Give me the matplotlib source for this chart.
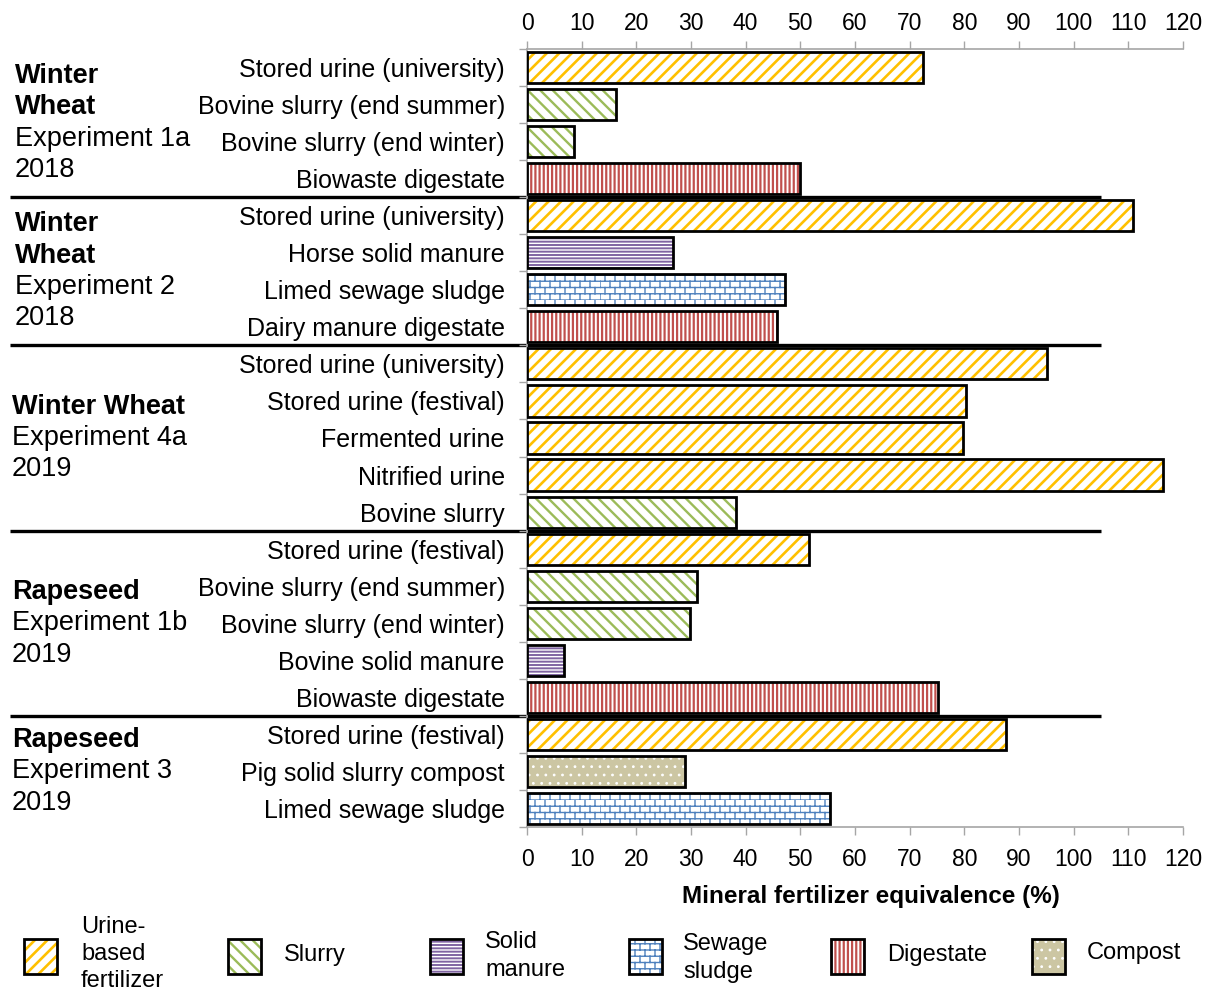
import matplotlib
matplotlib.use('Agg')
import matplotlib.pyplot as plt
import matplotlib.transforms as mtransforms
import numpy as np
import matplotlib.hatch as mhatch
from matplotlib.path import Path
from matplotlib.patches import Rectangle

plt.rcParams['font.family'] = ['Liberation Sans', 'DejaVu Sans']

# ---------------- data ----------------
categories = [
    "Stored urine (university)", "Bovine slurry (end summer)", "Bovine slurry (end winter)", "Biowaste digestate",
    "Stored urine (university)", "Horse solid manure", "Limed sewage sludge", "Dairy manure digestate",
    "Stored urine (university)", "Stored urine (festival)", "Fermented urine", "Nitrified urine", "Bovine slurry",
    "Stored urine (festival)", "Bovine slurry (end summer)", "Bovine slurry (end winter)", "Bovine solid manure",
    "Biowaste digestate",
    "Stored urine (festival)", "Pig solid slurry compost", "Limed sewage sludge",
]
values = [72.4, 16.3, 8.6, 49.9,
          110.8, 26.7, 47.2, 45.7,
          95.1, 80.3, 79.8, 116.3, 38.2,
          51.6, 31.1, 29.8, 6.8, 75.2,
          87.6, 28.9, 55.4]
fert_types = ["urine", "slurry", "slurry", "digestate",
              "urine", "solid", "sewage", "digestate",
              "urine", "urine", "urine", "urine", "slurry",
              "urine", "slurry", "slurry", "solid", "digestate",
              "urine", "compost", "sewage"]
group_titles = ["Winter\nWheat", "Winter\nWheat", "Winter Wheat", "Rapeseed", "Rapeseed"]
group_subtitles = ["Experiment 1a\n2018", "Experiment 2\n2018", "Experiment 4a\n2019",
                   "Experiment 1b\n2019", "Experiment 3\n2019"]
group_sizes = [4, 4, 5, 5, 3]
type_order = ["urine", "slurry", "solid", "sewage", "digestate", "compost"]
type_labels = ["Urine-\nbased\nfertilizer", "Slurry", "Solid\nmanure", "Sewage\nsludge", "Digestate", "Compost"]
x_ticks = list(range(0, 121, 10))

# ---------------- custom hatches ----------------
class BrickHatch(mhatch.HatchPatternBase):
    def __init__(self, hatch, density):
        n = hatch.count('b')
        self.rows = 16 * n
        self.cols = 10 * n
        self.num_vertices = (self.rows + self.rows * self.cols) * 2 if n else 0

    def set_vertices_and_codes(self, vertices, codes):
        verts = []
        for r in range(self.rows):
            y0 = r / self.rows
            y1 = (r + 1) / self.rows
            verts.append((0.0, y0)); verts.append((1.0, y0))
            off = 0.5 / self.cols if r % 2 else 0.0
            for c in range(self.cols):
                x = c / self.cols + off
                verts.append((x, y0)); verts.append((x, y1))
        vertices[:] = np.array(verts)
        codes[0::2] = Path.MOVETO
        codes[1::2] = Path.LINETO


class DiagNE(mhatch.HatchPatternBase):
    def __init__(self, hatch, density):
        self.num_lines = 16 * hatch.count('a')
        self.num_vertices = (self.num_lines + 1) * 2 if self.num_lines else 0

    def set_vertices_and_codes(self, vertices, codes):
        steps = np.linspace(-0.5, 0.5, self.num_lines + 1)
        vertices[0::2, 0] = 0.0 + steps
        vertices[0::2, 1] = 0.0 - steps
        vertices[1::2, 0] = 1.0 + steps
        vertices[1::2, 1] = 1.0 - steps
        codes[0::2] = Path.MOVETO
        codes[1::2] = Path.LINETO


class DiagSE(mhatch.HatchPatternBase):
    def __init__(self, hatch, density):
        self.num_lines = 16 * hatch.count('c')
        self.num_vertices = (self.num_lines + 1) * 2 if self.num_lines else 0

    def set_vertices_and_codes(self, vertices, codes):
        steps = np.linspace(-0.5, 0.5, self.num_lines + 1)
        vertices[0::2, 0] = 0.0 + steps
        vertices[0::2, 1] = 1.0 + steps
        vertices[1::2, 0] = 1.0 + steps
        vertices[1::2, 1] = 0.0 + steps
        codes[0::2] = Path.MOVETO
        codes[1::2] = Path.LINETO


mhatch._hatch_types.extend([BrickHatch, DiagNE, DiagSE])
mhatch._validate_hatch_pattern = lambda h: None

styles = {
    "urine":     dict(face="white",   hcol="#FFC000", hatch="a",     hlw=1.9),
    "slurry":    dict(face="white",   hcol="#9BBB59", hatch="c",     hlw=1.7),
    "solid":     dict(face="white",   hcol="#8064A2", hatch="-----", hlw=1.4),
    "sewage":    dict(face="white",   hcol="#4F81BD", hatch="b",     hlw=1.0),
    "digestate": dict(face="white",   hcol="#C0504D", hatch="||||",  hlw=1.6),
    "compost":   dict(face="#CCC6A3", hcol="white",   hatch="..",    hlw=0.8),
}

W, H = 1213, 992
fig = plt.figure(figsize=(W / 100, H / 100), dpi=100)
ax = fig.add_axes([527 / W, 1 - 827 / H, 656 / W, 778 / H])

y = np.arange(len(categories))
vals = np.array(values)

for t in type_order:
    idx = [i for i, ft in enumerate(fert_types) if ft == t]
    st = styles[t]
    plt.rcParams['hatch.linewidth'] = st["hlw"]
    bars = ax.barh(y[idx], vals[idx], height=0.84, color=st["face"], edgecolor=st["hcol"],
                   hatch=st["hatch"], linewidth=0, zorder=3)
    for b in bars:
        if hasattr(b, 'set_hatch_linewidth'):
            b.set_hatch_linewidth(st["hlw"])
    ax.barh(y[idx], vals[idx], height=0.84, fill=False, edgecolor="black", linewidth=2.0, zorder=4)

ax.set_xlim(0, 120)
ax.set_ylim(len(categories) - 0.5, -0.5)
ax.set_xticks(x_ticks)
ax.set_xticklabels([str(v) for v in x_ticks])
ax.tick_params(axis='x', top=True, labeltop=True, bottom=True, labelbottom=True, direction='out',
               length=6, width=1, color='#A6A6A6', labelsize=16.5, pad=9)
ax.set_yticks(y)
ax.set_yticklabels(categories, fontsize=18)
ax.set_yticks(np.arange(-0.5, len(categories)), minor=True)
ax.tick_params(axis='y', which='major', length=0, pad=16)
ax.tick_params(axis='y', which='minor', length=6, width=1, color='#A6A6A6', direction='out')
for s in ['top', 'bottom', 'left']:
    ax.spines[s].set_color('#A6A6A6')
    ax.spines[s].set_linewidth(1.2)
ax.spines['right'].set_visible(False)

ax.text((871 - 527) / 656, -(897 - 827) / 778, "Mineral fertilizer equivalence (%)", transform=ax.transAxes,
        ha='center', va='center', fontsize=17.5, fontweight='bold')

# separators and group labels
bounds = np.cumsum(group_sizes)
ax.hlines(bounds[:-1] - 0.5, -517 / 656, 105 / 120, transform=ax.get_yaxis_transform(),
          colors='black', linewidth=2.4, clip_on=False, zorder=1)
group_x = [15, 15, 12, 12, 12]
start = 0
line_px = 31.3
for gi, n in enumerate(group_sizes):
    center = start + (n - 1) / 2
    lines = [(l, 'bold') for l in group_titles[gi].split("\n")] + \
            [(l, 'normal') for l in group_subtitles[gi].split("\n")]
    m = len(lines)
    for li, (txt, fw) in enumerate(lines):
        off = ((m - 1) / 2 - li) * line_px * 0.72
        ax.annotate(txt, xy=(group_x[gi] / W, center), xycoords=('figure fraction', 'data'),
                    xytext=(0, off), textcoords='offset points', ha='left', va='center',
                    fontsize=19.5, fontweight=fw, annotation_clip=False)
    start += n

# legend
patch_x = [24, 228, 430, 629, 831, 1032]
text_x = [81, 284, 485, 683, 887, 1087]
text_y = [954, 955, 956, 958, 955, 953]
for i, t in enumerate(type_order):
    st = styles[t]
    plt.rcParams['hatch.linewidth'] = st["hlw"]
    r1 = Rectangle((patch_x[i] / W, 1 - 974 / H), 33 / W, 35 / H, transform=fig.transFigure,
                   facecolor=st["face"], edgecolor=st["hcol"], hatch=st["hatch"], linewidth=0)
    if hasattr(r1, 'set_hatch_linewidth'):
        r1.set_hatch_linewidth(st["hlw"])
    r2 = Rectangle((patch_x[i] / W, 1 - 974 / H), 33 / W, 35 / H, transform=fig.transFigure,
                   fill=False, edgecolor='black', linewidth=2.0)
    fig.add_artist(r1)
    fig.add_artist(r2)
    fig.text(text_x[i] / W, 1 - text_y[i] / H, type_labels[i], ha='left', va='center',
             fontsize=17, linespacing=1.3)

# top tick labels: a little closer to the axis
fig.canvas.draw()
for tk in ax.xaxis.get_major_ticks():
    tk.label2.set_transform(tk.label2.get_transform() +
                            mtransforms.ScaledTranslation(0, -7 / 100, fig.dpi_scale_trans))

fig.savefig("out.png", dpi=100)
